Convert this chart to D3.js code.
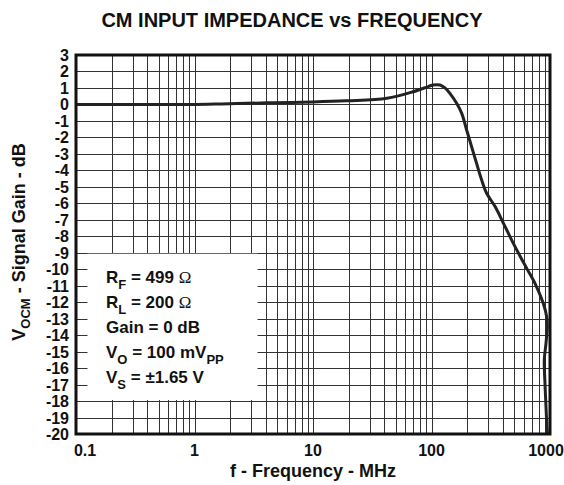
<!doctype html>
<html lang="en">
<head>
<meta charset="utf-8">
<title>CM input impedance vs frequency</title>
<style>
    body { margin: 0; background: #fff; }
    svg text { font-family: "Liberation Sans", Arial, sans-serif; font-weight: bold; fill: #111; }
    svg text .omega { font-family: "Liberation Serif", "DejaVu Serif", serif; font-weight: normal; }
</style>
</head>
<body>
<svg id="chart" width="564" height="485"></svg>

<script src="https://cdn.jsdelivr.net/npm/d3@7/dist/d3.min.js"></script>
<script>
    // curve (MHz, dB)
    let freqMHz = [0.1, 0.3, 0.6, 1, 1.5, 2.3, 4.5, 10, 19, 42, 70, 95, 103, 118, 130, 143,
                   163, 180, 198, 218, 240, 265, 292, 344, 404, 475, 558, 636, 747, 877,
                   937, 948, 925, 895, 907, 925, 948, 955];
    let gainDB = [0, 0, 0, 0, 0.02, 0.06, 0.1, 0.15, 0.22, 0.37, 0.77, 1.1, 1.18, 1.18, 1.0, 0.67,
                  0.07, -0.54, -1.55, -2.57, -3.57, -4.59, -5.39, -6.2, -7.2, -8.23, -9.2, -9.95, -10.86, -12.07,
                  -12.88, -13.49, -14.5, -15.5, -16.92, -18.34, -19.86, -20];

    let xTicks = [0.1, 1, 10, 100, 1000];
    let yTicks = d3.range(3, -21, -1);
    let legendLines = [
        ["R", "F", " = 499 ", "\u03A9"],
        ["R", "L", " = 200 ", "\u03A9"],
        ["Gain = 0 dB"],
        ["V", "O", " = 100 mV", null, "PP"],
        ["V", "S", " = \u00B11.65 V"]
    ];

    let svg = d3.select("#chart");
    let plot = {left: 76, right: 550, top: 55, bottom: 434};

    let x = d3.scaleLog().domain([0.1, 1000]).range([plot.left, plot.right]);
    let y = d3.scaleLinear().domain([3, -20]).range([plot.top, plot.bottom]);

    // grid: 2..9 in each decade plus the decade lines
    let vLines = [];
    [0.1, 1, 10, 100].forEach(function (dec) {
        for (let k = 2; k <= 9; k++) vLines.push(dec * k);
    });
    vLines = vLines.concat([1, 10, 100]);

    let grid = svg.append("g").attr("class", "grid")
        .attr("stroke", "#333").attr("stroke-width", 1).attr("shape-rendering", "crispEdges");

    grid.selectAll("line.v").data(vLines).enter().append("line")
        .attr("class", "v")
        .attr("x1", d => Math.round(x(d)) + 0.5).attr("x2", d => Math.round(x(d)) + 0.5)
        .attr("y1", plot.top).attr("y2", plot.bottom);

    grid.selectAll("line.h").data(yTicks.slice(1, -1)).enter().append("line")
        .attr("class", "h")
        .attr("x1", plot.left).attr("x2", plot.right)
        .attr("y1", d => Math.round(y(d)) + 0.5).attr("y2", d => Math.round(y(d)) + 0.5);

    // legend box blanks out the grid
    svg.append("rect")
        .attr("x", x(0.125)).attr("y", y(-9) + 1)
        .attr("width", x(3.4) - x(0.125)).attr("height", y(-18) - y(-9) - 2)
        .attr("fill", "#fff");

    let legend = svg.append("g").attr("font-size", 17);
    legendLines.forEach(function (l, i) {
        let t = legend.append("text")
            .attr("x", 106).attr("y", 283 + i * 25);
        t.append("tspan").text(l[0]);
        if (l[1]) t.append("tspan").attr("font-size", 13).attr("dy", 6).text(l[1]);
        if (l[2]) t.append("tspan").attr("dy", -6).text(l[2]);
        if (l[3]) t.append("tspan").attr("class", "omega").text(l[3]);
        if (l[4]) t.append("tspan").attr("font-size", 13).attr("dy", 6).text(l[4]);
    });

    // curve
    let line = d3.line()
        .x((d, i) => x(freqMHz[i]))
        .y(d => y(d))
        .curve(d3.curveCatmullRom.alpha(0.5));

    svg.append("path")
        .datum(gainDB)
        .attr("d", line)
        .attr("fill", "none")
        .attr("stroke", "#222")
        .attr("stroke-width", 3)
        .attr("stroke-linejoin", "round");

    // frame
    svg.append("rect")
        .attr("x", plot.left).attr("y", plot.top)
        .attr("width", plot.right - plot.left).attr("height", plot.bottom - plot.top)
        .attr("fill", "none").attr("stroke", "#111").attr("stroke-width", 3);

    // y tick labels
    svg.append("g").attr("font-size", 16).attr("text-anchor", "end")
        .selectAll("text").data(yTicks).enter().append("text")
        .attr("x", plot.left - 7)
        .attr("y", d => y(d) + 6)
        .text(d => String(d));

    // x tick labels
    svg.append("g").attr("font-size", 16)
        .selectAll("text").data(xTicks).enter().append("text")
        .attr("x", (d, i) => x(d) + (i === 0 ? 9 : (i === xTicks.length - 1 ? -4 : 0)))
        .attr("y", 456)
        .attr("text-anchor", "middle")
        .text(d => String(d));

    // titles
    svg.append("text")
        .attr("x", 292).attr("y", 27)
        .attr("text-anchor", "middle").attr("font-size", 20)
        .text("CM INPUT IMPEDANCE vs FREQUENCY");

    svg.append("text")
        .attr("x", 313).attr("y", 477)
        .attr("text-anchor", "middle").attr("font-size", 18)
        .text("f - Frequency - MHz");

    let yTitle = svg.append("text")
        .attr("transform", "translate(25,242) rotate(-90)")
        .attr("text-anchor", "middle").attr("font-size", 18);
    yTitle.append("tspan").text("V");
    yTitle.append("tspan").attr("font-size", 13).attr("dy", 5).text("OCM");
    yTitle.append("tspan").attr("dy", -5).text(" - Signal Gain - dB");
</script>
</body>
</html>
